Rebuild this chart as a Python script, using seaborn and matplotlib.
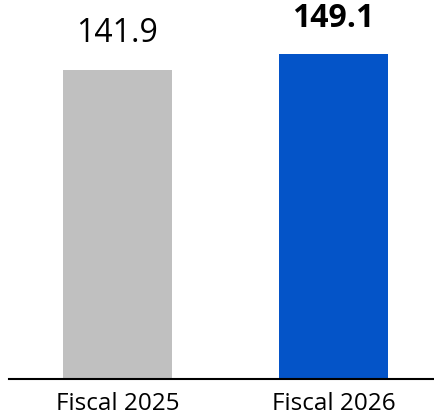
import seaborn as sns
from matplotlib import pyplot as plt
import pandas as pd

categories = ["Fiscal 2025", "Fiscal 2026"]
values = [141.9, 149.1]
bar_colors = ["#c0c0c0", "#0454c8"]

df = pd.DataFrame({"period": categories, "value": values})

sns.set_style("white")
plt.rcParams['font.family'] = ['Open Sans', 'DejaVu Sans']
plt.rcParams['text.color'] = 'black'
plt.rcParams['xtick.color'] = 'black'

fig = plt.figure(figsize=(4.35, 4.15), dpi=100)
ax = fig.add_axes([9 / 435, 1 - 379 / 415, 426 / 435, 379 / 415])

sns.barplot(data=df, x="period", y="value", hue="period",
            palette=bar_colors, saturation=1, width=0.505, linewidth=0,
            legend=False, ax=ax)

ax.set_xlim(-0.502, 1.470)
ax.set_ylim(0, 173.9)

for i, (cat, v) in enumerate(zip(categories, values)):
    ax.annotate(f"{v:.1f}", (i, v), xytext=(0, 14), textcoords="offset points",
                ha="center", va="bottom", fontsize=23, color="black",
                fontweight="bold" if i == 1 else "normal")

for s in ["top", "right", "left"]:
    ax.spines[s].set_visible(False)
ax.spines["bottom"].set_color("black")
ax.spines["bottom"].set_linewidth(1.5)
ax.set_yticks([])
ax.set_xlabel("")
ax.set_ylabel("")
ax.tick_params(axis="x", length=0, labelsize=17.5, pad=9, labelcolor="black")

fig.savefig("out.png", dpi=100)
